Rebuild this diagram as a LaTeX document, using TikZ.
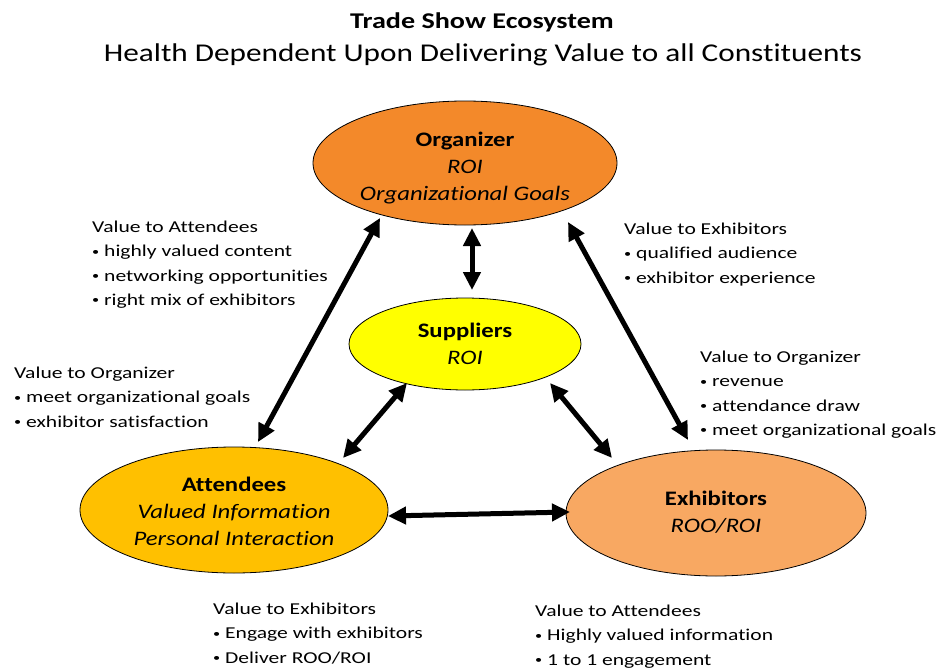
\documentclass[tikz,border=0pt]{standalone}
\usepackage{fontspec}
\setmainfont{Carlito}[Ligatures=NoCommon]
\newfontfamily\notefont{Carlito}[Ligatures=NoCommon,FakeStretch=1.3]
\newfontfamily\blobfont{Carlito}[Ligatures=NoCommon,FakeStretch=1.2]
\newfontfamily\titlefont{Carlito}[Ligatures=NoCommon,FakeStretch=1.25]
\newfontfamily\subfont{Carlito}[Ligatures=NoCommon,FakeStretch=1.22]
\usetikzlibrary{shapes.geometric,arrows.meta,calc}
\definecolor{orgc}{RGB}{243,137,42}
\definecolor{attc}{RGB}{255,192,0}
\definecolor{exhc}{RGB}{248,168,98}
\definecolor{supc}{RGB}{255,255,0}
\newcommand{\bul}{\makebox[12pt][l]{\raisebox{1.6pt}{\fontsize{11}{11}\selectfont\textbullet}}}
\begin{document}
\begin{tikzpicture}[x=1pt,y=-1pt,
  blob/.style={ellipse,draw=black,line width=0.8pt,inner sep=0pt,align=center,
    font=\blobfont\fontsize{20.6}{27}\selectfont},
  arr/.style={line width=5pt,{Triangle[length=18pt,width=17pt]}-{Triangle[length=18pt,width=17pt]}},
  note/.style={anchor=north west,inner sep=0pt,align=left,font=\notefont\fontsize{16.6}{24.2}\selectfont}]
\useasboundingbox[fill=white] (0,0) rectangle (940,669);
\node[inner sep=0pt,font=\titlefont\fontsize{22.5}{24}\selectfont\bfseries] (title) at (482,22) {Trade Show Ecosystem};
\node[inner sep=0pt,font=\subfont\fontsize{25.6}{28}\selectfont] (sub) at (483,55) {Health Dependent Upon Delivering Value to all Constituents};

\node[blob,fill=orgc,minimum width=304pt,minimum height=124pt] (org) at (465,163) {};
\node[blob,fill=supc,minimum width=232pt,minimum height=92pt] (sup) at (465,344) {};
\node[blob,fill=attc,minimum width=308pt,minimum height=126pt] (att) at (234,510) {};
\node[blob,fill=exhc,minimum width=300pt,minimum height=126pt] (exh) at (716,513) {};

\node[blob,draw=none,fill=none] (orgt) at (465,168) {\textbf{Organizer}\\\textit{ROI}\\\textit{Organizational Goals}};
\node[blob,draw=none,fill=none] (supt) at (465,344) {\textbf{Suppliers}\\\textit{ROI}};
\node[blob,draw=none,fill=none] (attt) at (234,511) {\textbf{Attendees}\\\textit{Valued Information}\\\textit{Personal Interaction}};
\node[blob,draw=none,fill=none] (exht) at (716,512) {\textbf{Exhibitors}\\\textit{ROO/ROI}};

\draw[arr] ($(org.center)+(-85,55)$) -- ($(att.center)+(24,-68)$);
\draw[arr] ($(org.center)+(7,65)$) -- ($(sup.center)+(7,-54)$);
\draw[arr] ($(org.center)+(103,59)$) -- ($(exh.center)+(-28,-73)$);
\draw[arr] ($(sup.center)+(-58,39)$) -- ($(att.center)+(109,-52)$);
\draw[arr] ($(sup.center)+(85,39)$) -- ($(exh.center)+(-104,-55)$);
\draw[arr] ($(att.center)+(154,6)$) -- ($(exh.center)+(-146,-1)$);

\node[note] (n1) at (92,221) {Value to Attendees\\\bul highly valued content\\\bul networking opportunities\\\bul right mix of exhibitors};
\node[note] (n2) at (14,367) {Value to Organizer\\\bul meet organizational goals\\\bul exhibitor satisfaction};
\node[note] (n3) at (624,223) {Value to Exhibitors\\\bul qualified audience\\\bul exhibitor experience};
\node[note] (n4) at (700,351) {Value to Organizer\\\bul revenue\\\bul attendance draw\\\bul meet organizational goals};
\node[note] (n5) at (213,603) {Value to Exhibitors\\\bul Engage with exhibitors\\\bul Deliver ROO/ROI};
\node[note] (n6) at (535,605) {Value to Attendees\\\bul Highly valued information\\\bul 1 to 1 engagement};
\end{tikzpicture}
\end{document}
